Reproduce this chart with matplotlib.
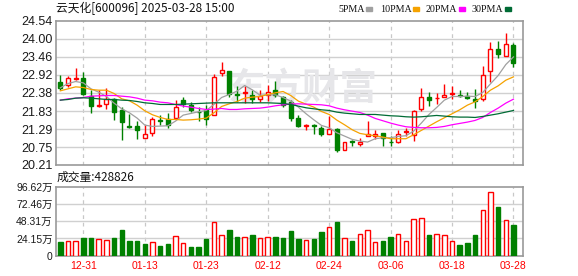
import numpy as np
import matplotlib
matplotlib.use('Agg')
import matplotlib.pyplot as plt
from matplotlib.patches import Rectangle

# data
dates = ['12-26', '12-27', '12-30', '12-31', '01-02', '01-03', '01-06', '01-07', '01-08', '01-09',
         '01-10', '01-13', '01-14', '01-15', '01-16', '01-17', '01-20', '01-21', '01-22', '01-23',
         '01-24', '01-27', '02-05', '02-06', '02-07', '02-10', '02-11', '02-12', '02-13', '02-14',
         '02-17', '02-18', '02-19', '02-20', '02-21', '02-24', '02-25', '02-26', '02-27', '02-28',
         '03-03', '03-04', '03-05', '03-06', '03-07', '03-10', '03-11', '03-12', '03-13', '03-14',
         '03-17', '03-18', '03-19', '03-20', '03-21', '03-24', '03-25', '03-26', '03-27', '03-28']

opens = [22.72, 22.61, 22.80, 22.83, 22.28, 21.98, 22.04, 22.18, 21.86, 21.39,
         21.37, 21.02, 21.17, 21.55, 21.59, 21.61, 22.16, 22.02, 21.81, 21.86,
         21.72, 22.98, 23.05, 22.33, 22.38, 22.32, 22.18, 22.30, 22.46, 22.24,
         22.10, 21.63, 21.39, 21.42, 21.31, 21.13, 21.29, 20.65, 20.93, 20.83,
         21.07, 21.09, 21.17, 20.91, 20.89, 21.19, 21.11, 21.90, 22.26, 22.21,
         22.26, 22.34, 22.32, 22.28, 22.20, 22.20, 23.04, 23.70, 23.50, 23.82]
highs = [22.93, 22.90, 23.13, 23.00, 22.46, 22.48, 22.53, 22.22, 21.96, 21.73,
         21.52, 21.42, 21.65, 21.70, 21.78, 22.16, 22.24, 22.09, 21.96, 22.00,
         22.96, 23.30, 23.05, 22.60, 22.58, 22.46, 22.46, 22.63, 22.75, 22.28,
         22.16, 21.70, 21.45, 21.45, 21.39, 21.68, 21.31, 20.91, 20.95, 21.03,
         21.52, 21.27, 21.17, 21.07, 21.25, 21.31, 21.86, 22.52, 22.40, 22.36,
         22.64, 22.58, 22.46, 22.40, 22.50, 23.18, 23.90, 23.94, 24.18, 23.88]
lows = [22.46, 22.55, 22.78, 22.30, 21.76, 21.96, 21.88, 21.57, 20.95, 21.32,
        20.99, 21.01, 21.07, 21.41, 21.31, 21.60, 21.96, 21.80, 21.53, 21.41,
        21.70, 22.88, 22.26, 22.10, 22.08, 22.08, 22.11, 22.14, 22.26, 21.96,
        21.53, 21.35, 21.25, 21.13, 21.07, 21.13, 20.59, 20.65, 20.79, 20.77,
        21.07, 20.99, 20.79, 20.77, 20.87, 21.09, 20.93, 21.84, 21.98, 22.04,
        22.24, 22.18, 22.24, 22.20, 21.92, 22.12, 22.72, 23.44, 23.50, 23.16]
closes = [22.52, 22.83, 22.83, 22.33, 21.98, 22.02, 22.20, 21.80, 21.51, 21.36,
          21.25, 21.15, 21.59, 21.53, 21.41, 21.96, 22.04, 21.86, 21.79, 21.59,
          22.86, 23.08, 22.34, 22.30, 22.42, 22.20, 22.28, 22.40, 22.30, 22.02,
          21.63, 21.39, 21.42, 21.39, 21.15, 21.29, 20.65, 20.91, 20.89, 20.91,
          21.15, 21.15, 21.03, 20.89, 21.15, 21.23, 21.84, 22.26, 22.16, 22.23,
          22.32, 22.36, 22.29, 22.22, 22.14, 22.92, 23.70, 23.54, 23.86, 23.28]

ma5 = [22.53, 22.66, 22.72, 22.68, 22.50, 22.40, 22.27, 22.07, 21.90, 21.78,
       21.62, 21.41, 21.37, 21.38, 21.39, 21.53, 21.71, 21.76, 21.81, 21.85,
       22.03, 22.24, 22.33, 22.43, 22.60, 22.47, 22.31, 22.32, 22.32, 22.24,
       22.13, 21.95, 21.75, 21.57, 21.40, 21.33, 21.18, 21.08, 20.98, 20.93,
       20.90, 21.00, 21.03, 21.03, 21.07, 21.09, 21.23, 21.47, 21.73, 21.94,
       22.16, 22.27, 22.27, 22.28, 22.27, 22.39, 22.65, 22.90, 23.23, 23.46]
ma10 = [22.44, 22.50, 22.56, 22.54, 22.48, 22.46, 22.46, 22.36, 22.20, 22.14,
        22.01, 21.84, 21.72, 21.64, 21.58, 21.58, 21.56, 21.57, 21.59, 21.62,
        21.78, 21.97, 22.05, 22.12, 22.22, 22.25, 22.27, 22.33, 22.38, 22.42,
        22.30, 22.13, 22.04, 21.95, 21.82, 21.73, 21.56, 21.42, 21.27, 21.16,
        21.12, 21.09, 21.05, 21.00, 21.00, 21.00, 21.12, 21.25, 21.38, 21.51,
        21.63, 21.75, 21.87, 22.01, 22.11, 22.27, 22.46, 22.59, 22.76, 22.86]
ma20 = [22.16, 22.20, 22.22, 22.24, 22.28, 22.29, 22.30, 22.30, 22.28, 22.26,
        22.22, 22.16, 22.14, 22.10, 22.08, 22.03, 21.98, 21.95, 21.91, 21.88,
        21.89, 21.91, 21.88, 21.88, 21.90, 21.91, 21.92, 21.95, 21.99, 22.02,
        22.04, 22.05, 22.04, 22.03, 22.02, 21.99, 21.92, 21.87, 21.83, 21.79,
        21.71, 21.61, 21.54, 21.47, 21.41, 21.36, 21.34, 21.33, 21.33, 21.34,
        21.37, 21.42, 21.46, 21.50, 21.55, 21.64, 21.79, 21.92, 22.07, 22.19]
ma30 = [22.16, 22.18, 22.22, 22.23, 22.22, 22.20, 22.18, 22.18, 22.16, 22.15,
        22.12, 22.08, 22.06, 22.03, 22.03, 22.03, 22.04, 22.05, 22.06, 22.07,
        22.08, 22.08, 22.08, 22.08, 22.08, 22.08, 22.08, 22.08, 22.07, 22.06,
        22.03, 21.98, 21.93, 21.90, 21.87, 21.85, 21.80, 21.77, 21.75, 21.73,
        21.73, 21.73, 21.71, 21.69, 21.68, 21.66, 21.65, 21.66, 21.68, 21.70,
        21.68, 21.66, 21.65, 21.65, 21.64, 21.67, 21.71, 21.75, 21.80, 21.85]

# volume in 万
volume = [18.6, 21.2, 21.2, 24.1, 24.1, 23.0, 22.6, 24.1, 35.3, 20.0,
          21.2, 17.0, 19.5, 14.2, 17.0, 27.8, 18.1, 12.8, 12.8, 23.6,
          46.9, 28.8, 35.8, 26.0, 25.5, 28.8, 24.1, 25.5, 26.0, 24.6,
          34.4, 23.2, 21.8, 23.2, 33.0, 39.5, 46.9, 24.1, 20.4, 29.7,
          35.3, 18.6, 20.4, 26.0, 29.7, 20.4, 51.5, 53.4, 28.8, 29.7,
          28.3, 20.4, 14.9, 17.6, 28.8, 64.6, 89.6, 67.8, 50.6, 42.88]

price_ticks = [20.21, 20.75, 21.29, 21.83, 22.38, 22.92, 23.46, 24.00, 24.54]
vol_ticks = [0, 24.15, 48.31, 72.46, 96.62]
date_tick_idx = [3, 11, 19, 27, 35, 43, 51, 59]

RED = '#FF0000'
GREEN = '#008000'
GRID = '#D0D0D0'
BORDER = '#999999'

W, H = 578, 276
fig = plt.figure(figsize=(W / 100, H / 100), dpi=100)
left, right = 55.5, 522.7
ax = fig.add_axes([left / W, 1 - 165 / H, (right - left) / W, (165 - 21) / H])
axv = fig.add_axes([left / W, 1 - 255.7 / H, (right - left) / W, (255.7 - 186.7) / H])

x = np.arange(len(dates))
o = np.array(opens)
c = np.array(closes)
up = c >= o
vol_up = np.concatenate([[up[0]], c[1:] >= c[:-1]])

for a in (ax, axv):
    a.set_xlim(-0.625, 60.2)
    for s in a.spines.values():
        s.set_color(BORDER)
        s.set_linewidth(1.2)
    for i in date_tick_idx:
        a.axvline(i, color='#C8C8C8', lw=0.9, ls=(0, (3, 3)), zorder=0)
    a.tick_params(length=0)

# price panel
ax.set_ylim(price_ticks[0], price_ticks[-1])
for v in price_ticks[1:-1]:
    ax.axhline(v, color=GRID, lw=1.0, zorder=0)
ax.set_yticks(price_ticks)
ax.set_yticklabels(['%.2f' % v for v in price_ticks], fontsize=9,
                   family='Liberation Sans', color='#1a1a1a')
ax.tick_params(axis='y', pad=2)
ax.set_xticks([])

# watermark
ax.text(0.53, 0.53, '东方财富', transform=ax.transAxes, ha='center', va='center',
        fontsize=27, color='#E6E6E9', family='Noto Sans CJK SC', fontweight='bold', zorder=0)

cols = np.where(up, RED, GREEN)
ax.vlines(x, lows, highs, colors=cols, lw=1.0, zorder=2)
body = np.maximum(np.abs(c - o), 0.015)
ax.bar(x, body, bottom=np.minimum(o, c), width=0.52,
       color=np.where(up, 'white', GREEN), edgecolor=cols, lw=1.0, zorder=3)

ax.plot(x, ma5, color='#A0A0A0', lw=0.9, zorder=4)
ax.plot(x, ma10, color='#F5A200', lw=0.9, zorder=4)
ax.plot(x, ma20, color='#FF00FF', lw=0.9, zorder=4)
ax.plot(x, ma30, color='#006B35', lw=0.9, zorder=4)

# volume panel
axv.set_ylim(0, vol_ticks[-1])
for v in vol_ticks[1:-1]:
    axv.axhline(v, color=GRID, lw=1.0, zorder=0)
axv.set_yticks(vol_ticks)
axv.set_yticklabels(['0'] + ['%.2f万' % v for v in vol_ticks[1:]], fontsize=7.5,
                    family=['Liberation Sans', 'Noto Sans CJK SC'], color='#1a1a1a')
axv.tick_params(axis='y', pad=2)
vcols = np.where(vol_up, RED, GREEN)
axv.bar(x, volume, width=0.58, color=np.where(vol_up, 'white', GREEN),
        edgecolor=vcols, lw=1.0, zorder=3)
axv.set_xticks(date_tick_idx)
axv.set_xticklabels([dates[i] for i in date_tick_idx], fontsize=7.5,
                    family='Liberation Sans', color=RED)
axv.tick_params(axis='x', pad=4)

# header texts
fig.text(56 / W, 1 - 8.5 / H, '云天化[600096] 2025-03-28 15:00', fontsize=8.5,
         family=['Noto Sans CJK SC', 'DejaVu Sans'], va='center', color='#111111')
fig.text(57 / W, 1 - 177.5 / H, '成交量:428826', fontsize=8.5,
         family=['Noto Sans CJK SC', 'DejaVu Sans'], va='center', color='#111111')

legend = [('5PMA', 338, 366, '#A0A0A0'), ('10PMA', 380, 413, '#F5A200'),
          ('20PMA', 426, 459, '#FF00FF'), ('30PMA', 472, 505, '#006B35')]
for label, tx, sx, col in legend:
    fig.text(tx / W, 1 - 9 / H, label, fontsize=7.2, family='Liberation Serif',
             va='center', color='#111111')
    fig.add_artist(Rectangle((sx / W, 1 - 10.5 / H), 6 / W, 3 / H,
                             transform=fig.transFigure, color=col))

fig.savefig('out.png', dpi=100)
